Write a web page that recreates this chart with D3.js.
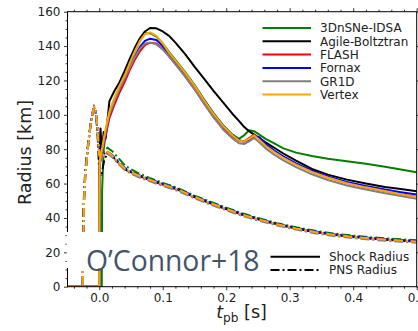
<!DOCTYPE html>
<html>
<head>
<meta charset="utf-8">
<script src="https://cdn.jsdelivr.net/npm/d3@7"></script>
<style>
  body { margin: 0; background: #fff; }
  text { font-family: "DejaVu Sans", sans-serif; }
</style>
</head>
<body>
<svg id="chart" width="418" height="331"></svg>
<script>
// codes, in plotting order
const codes = ["3DnSNe-IDSA", "Agile-Boltztran", "FLASH", "Fornax", "GR1D", "Vertex"];

// shock radius [km] vs t_pb [s]
const shockT = [-0.05, 0.0, 0.0005, 0.002, 0.004, 0.0045, 0.007, 0.01, 0.016, 0.024, 0.032, 0.04, 0.048, 0.056, 0.064, 0.072,
  0.08, 0.09, 0.1, 0.11, 0.12, 0.135, 0.15, 0.165, 0.18, 0.195, 0.21, 0.22, 0.228, 0.236, 0.244, 0.252, 0.262, 0.275,
  0.29, 0.31, 0.335, 0.36, 0.39, 0.42, 0.45, 0.475, 0.5];
const shock3DnSNe = [0, 0, 0, 0, 0, 56, 80, 89, 100, 109, 116, 123, 130, 137, 143, 147.5, 147.5, 145.5, 141.5, 136.5, 132,
  125, 117.5, 109, 101, 94, 88.5, 86, 88, 91, 90.5, 88.5, 86, 83.5, 80.5, 78, 76, 74.5, 73, 71.5, 69.8, 68.2, 66.6];
const shockAgile = [0, 0, 80, 92, 79, 80, 90, 86, 108, 114, 119, 125.5, 132.5, 139, 144.5, 148.5, 150.5, 150.3, 148.5, 145.9, 142,
  135.5, 128, 121, 114, 107.3, 100.5, 96.5, 93, 90.5, 88.5, 86.5, 84, 81, 77.5, 73.3, 68.5, 65.2, 62.3, 60, 58, 56.8, 55.6];
const shockFLASH = [0, 0, 70, 74, 77, 77.5, 83, 88, 98, 106, 113, 119, 126, 132, 137, 140.5, 142, 141.5, 138.5, 134, 129.5,
  122.5, 115, 106.8, 99, 92.5, 87.3, 84.8, 84.5, 86.5, 88.5, 86, 82.3, 78.8, 75.3, 71.3, 67, 63.6, 60.3, 57.8, 55.6, 53.8, 52.2];
const shockFornax = [0, 0, 70, 75, 78, 78.5, 84, 90, 100, 108, 115, 121, 128, 134, 139.5, 143, 144.3, 143.5, 140, 135.5, 131,
  124, 116.8, 108.5, 100.5, 93.5, 88, 85.3, 84.5, 85.5, 87.5, 87, 83, 79.3, 75.8, 71.8, 67.5, 64.2, 61, 58.6, 56.5, 55, 53.6];
const shockGR1D = [0, 0, 70, 74, 78, 78.5, 84, 90, 100, 108, 115, 121, 127.5, 133.5, 138.5, 141.5, 142, 141, 138, 134, 129.5,
  122.5, 115, 106.5, 98.5, 91.5, 86.2, 83.5, 83, 84.5, 86.5, 84, 80.5, 77, 73.5, 69.6, 65.4, 62.1, 58.9, 56.5, 54.4, 52.8, 51.2];
const shockVertex = [0, 0, 72, 76, 80, 80.5, 86, 92, 102, 110, 117, 123, 130, 137, 143, 147, 148, 146, 141.5, 136, 131.5,
  124.5, 117, 108.5, 100.5, 93.5, 88, 85, 84.5, 86, 88, 85.5, 82, 78.5, 75, 71, 66.8, 63.5, 60.2, 57.8, 55.7, 53.8, 52];

// PNS radius [km] vs t_pb [s]
const pnsT = [-0.05, -0.026, -0.0255, -0.024, -0.022, -0.019, -0.016, -0.013, -0.010, -0.008, -0.006, -0.004, -0.002, 0.0,
  0.003, 0.008, 0.013, 0.02, 0.03, 0.042, 0.06, 0.08, 0.1, 0.126, 0.15, 0.175, 0.2, 0.225, 0.25, 0.28, 0.31, 0.34, 0.37,
  0.4, 0.43, 0.46, 0.5];
const pns3DnSNe = [0, 0, 20, 50, 65, 77, 87, 96, 102, 104.5, 103, 97, 88, 77, 76, 79.5, 80.8, 79, 75, 70, 66.3, 63.2, 60.4,
  57, 53, 49.4, 46, 42.7, 40, 37, 34.6, 32.5, 30.9, 29.7, 28.7, 27.9, 27];
const pnsAgile = [0, 0, 35, 55, 68, 79, 88, 96.5, 102, 104, 102, 95, 84, 66, 64, 74, 77.5, 76, 72.3, 68, 64.8, 62, 59.4,
  56.1, 52.1, 48.5, 45.1, 41.9, 39.2, 36.2, 33.8, 31.7, 30.1, 28.9, 27.9, 27.1, 26.2];
const pnsFLASH = [0, 0, 20, 50, 65, 77, 87, 96, 102, 104.5, 103, 97, 88, 77, 74.5, 77, 78, 76, 72, 67.8, 64.6, 61.8, 59.2,
  55.9, 52, 48.4, 45, 41.8, 39.1, 36.1, 33.7, 31.7, 30.1, 28.9, 27.9, 27.1, 26.2];
const pnsFornax = [0, 0, 20, 50, 65, 77, 87, 96, 102, 104.5, 103, 97, 88, 77, 75.5, 77.5, 78.5, 76.7, 72.8, 68.5, 65.3, 62.5,
  59.9, 56.6, 52.6, 49, 45.6, 42.3, 39.6, 36.6, 34.2, 32.1, 30.5, 29.3, 28.3, 27.5, 26.6];
const pnsGR1D = [0, 0, 18, 48, 64, 76, 86, 95.5, 101.5, 104, 102.5, 96, 87, 76, 74, 76.5, 77.5, 75.5, 71.5, 67.3, 64, 61.3,
  58.7, 55.4, 51.4, 47.8, 44.4, 41.2, 38.5, 35.6, 33.2, 31.1, 29.5, 28.3, 27.3, 26.5, 25.6];
const pnsVertex = [0, 0, 20, 50, 65, 77, 87, 96, 102, 104.5, 103, 97, 88, 77, 75, 77.5, 78.5, 76.5, 72.5, 68.2, 65, 62.2,
  59.6, 56.3, 52.3, 48.7, 45.3, 42, 39.3, 36.3, 33.9, 31.8, 30.2, 29, 28, 27.2, 26.3];

const xTicks = [0.0, 0.1, 0.2, 0.3, 0.4, 0.5];
const yTicks = [0, 20, 40, 60, 80, 100, 120, 140, 160];
const styleLabels = ["Shock Radius", "PNS Radius"];

const shockByCode = [shock3DnSNe, shockAgile, shockFLASH, shockFornax, shockGR1D, shockVertex];
const pnsByCode = [pns3DnSNe, pnsAgile, pnsFLASH, pnsFornax, pnsGR1D, pnsVertex];
const colors = ["#008000", "#000000", "#ff0000", "#0000ff", "#808080", "#ffa500"];
const dashDot = "9,3,2,3";

const svg = d3.select("#chart");
const L = 67.5, R = 416.7, T = 11.7, B = 286.7;

const x = d3.scaleLinear().domain([-0.05, 0.5]).range([L, R]);
const y = d3.scaleLinear().domain([0, 160]).range([B, T]);

svg.append("defs").append("clipPath").attr("id", "clip")
  .append("rect").attr("x", L).attr("y", T).attr("width", R - L).attr("height", B - T);

const line = d3.line().x(d => x(d[0])).y(d => y(d[1]));

const curves = svg.append("g").attr("clip-path", "url(#clip)");
codes.forEach((c, i) => {
  curves.append("path")
    .attr("d", line(shockT.map((t, j) => [t, shockByCode[i][j]])))
    .attr("fill", "none").attr("stroke", colors[i]).attr("stroke-width", 2)
    .attr("stroke-linejoin", "round");
  curves.append("path")
    .attr("d", line(pnsT.map((t, j) => [t, pnsByCode[i][j]])))
    .attr("fill", "none").attr("stroke", colors[i]).attr("stroke-width", 2)
    .attr("stroke-dasharray", dashDot);
});

// axes, ticks pointing out
const xMinor = d3.range(-0.04, 0.5001, 0.02).filter(v => Math.abs(v * 10 - Math.round(v * 10)) > 1e-6);
const yMinor = d3.range(0, 160.1, 5).filter(v => v % 20 !== 0);

svg.append("g").attr("transform", `translate(0,${B})`)
  .call(d3.axisBottom(x).tickValues(xTicks).tickFormat(d3.format(".1f")).tickSizeInner(3.5).tickSizeOuter(0).tickPadding(3.5));
svg.append("g").attr("transform", `translate(0,${B})`)
  .call(d3.axisBottom(x).tickValues(xMinor).tickFormat("").tickSizeInner(2).tickSizeOuter(0));
svg.append("g").attr("transform", `translate(0,${T})`)
  .call(d3.axisTop(x).tickValues(xTicks).tickFormat("").tickSizeInner(3.5).tickSizeOuter(0));
svg.append("g").attr("transform", `translate(0,${T})`)
  .call(d3.axisTop(x).tickValues(xMinor).tickFormat("").tickSizeInner(2).tickSizeOuter(0));
svg.append("g").attr("transform", `translate(${L},0)`)
  .call(d3.axisLeft(y).tickValues(yTicks).tickSizeInner(3.5).tickSizeOuter(0).tickPadding(3.5));
svg.append("g").attr("transform", `translate(${L},0)`)
  .call(d3.axisLeft(y).tickValues(yMinor).tickFormat("").tickSizeInner(2).tickSizeOuter(0));
svg.append("g").attr("transform", `translate(${R},0)`)
  .call(d3.axisRight(y).tickValues(yTicks).tickFormat("").tickSizeInner(3.5).tickSizeOuter(0));

svg.selectAll(".domain").remove();
svg.selectAll(".tick line").attr("stroke", "#000").attr("stroke-width", 0.8);
svg.selectAll(".tick text").attr("font-size", 12).attr("fill", "#222").style("font-family", "DejaVu Sans");

// frame
svg.append("rect").attr("x", L).attr("y", T).attr("width", R - L).attr("height", B - T)
  .attr("fill", "none").attr("stroke", "#000").attr("stroke-width", 1);

// white boxes behind annotation and style legend
svg.append("rect").attr("x", 66.8).attr("y", 232).attr("width", 196).attr("height", 36).attr("fill", "#fff");
svg.append("rect").attr("x", 262).attr("y", 245).attr("width", 154).attr("height", 34).attr("fill", "#fff");

svg.append("text").attr("x", 86).attr("y", 270.5)
  .style("font-family", "Open Sans").attr("font-size", 28.3).attr("fill", "#44546a")
  .text("O\u2019Connor+18");

// legend: codes
const leg = svg.append("g");
codes.forEach((c, i) => {
  const yy = 28 + i * 13.3;
  leg.append("line").attr("x1", 262.5).attr("x2", 311).attr("y1", yy).attr("y2", yy)
    .attr("stroke", colors[i]).attr("stroke-width", 2);
  leg.append("text").attr("x", 320).attr("y", yy + 4.3).attr("font-size", 12).attr("fill", "#222").text(c);
});

// legend: line styles
styleLabels.forEach((s, i) => {
  const yy = 256.7 + i * 13.3;
  leg.append("line").attr("x1", 270.5).attr("x2", 320).attr("y1", yy).attr("y2", yy)
    .attr("stroke", "#000").attr("stroke-width", 2)
    .attr("stroke-dasharray", i === 1 ? dashDot : null);
  leg.append("text").attr("x", 329).attr("y", yy + 4.3).attr("font-size", 12).attr("fill", "#222").text(s);
});

// axis labels
svg.append("text").attr("transform", "translate(31.3,152.5) rotate(-90)")
  .attr("text-anchor", "middle").attr("font-size", 17.5).attr("fill", "#222").text("Radius [km]");

const xl = svg.append("text").attr("x", 241.5).attr("y", 318).attr("text-anchor", "middle")
  .attr("font-size", 17.5).attr("fill", "#222");
xl.append("tspan").attr("font-style", "italic").text("t");
xl.append("tspan").attr("font-size", 12.2).attr("dy", 3.5).text("pb");
xl.append("tspan").attr("dy", -3.5).text("\u00a0[s]");
</script>
</body>
</html>
